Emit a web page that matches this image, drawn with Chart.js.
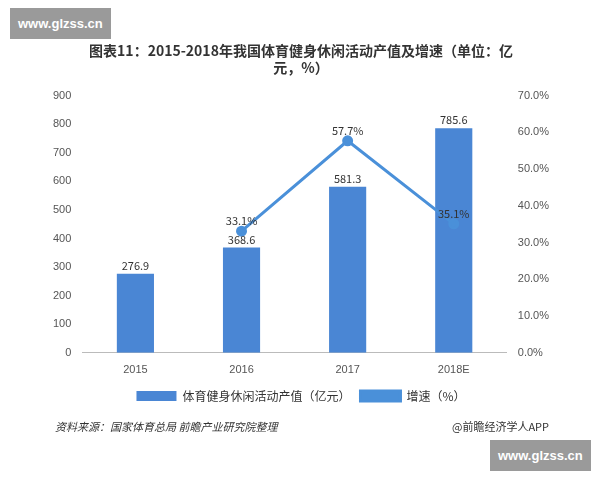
<!DOCTYPE html>
<html><head><meta charset="utf-8">
<script src="https://cdn.jsdelivr.net/npm/chart.js@4"></script>
<style>
body{margin:0;background:#fff;font-family:"Noto Sans CJK SC",sans-serif}
#wrap{position:relative;width:600px;height:480px}
.wm{position:absolute;background:#9a9a9a;color:#fff;font:bold 13px "Liberation Sans",sans-serif;padding:8px 8px}
.src{position:absolute;top:418px;font-size:11px;font-style:italic;color:#333}
</style></head><body>
<div id="wrap">
<canvas id="c" width="600" height="480"></canvas>
<div class="wm" style="left:10px;top:8px">www.glzss.cn</div>
<div class="wm" style="left:490px;top:440px">www.glzss.cn</div>
<div class="src" style="left:55px">资料来源：国家体育总局 前瞻产业研究院整理</div>
<div class="src" style="left:452px;font-style:normal">@前瞻经济学人APP</div>
</div>
<script>
// 数据
var years = ['2015', '2016', '2017', '2018E']
var outputValues = [276.9, 368.6, 581.3, 785.6]
var growthRates = [null, 33.1, 57.7, 35.1]

var labelPlugin = {
    id: 'labels',
    afterDatasetsDraw: function (chart) {
        var ctx = chart.ctx
        ctx.save()
        ctx.font = '11px "Noto Sans CJK SC"'
        ctx.fillStyle = '#333'
        ctx.textAlign = 'center'
        chart.getDatasetMeta(0).data.forEach(function (b, i) {
            ctx.fillText(outputValues[i].toFixed(1), b.x, b.y - 8)
        })
        chart.getDatasetMeta(1).data.forEach(function (p, i) {
            if (growthRates[i] == null) return
            ctx.fillText(growthRates[i].toFixed(1) + '%', p.x, p.y - 10)
        })
        ctx.restore()
    }
}

new Chart(document.getElementById('c'), {
    type: 'bar',
    data: {
        labels: years,
        datasets: [{
            label: '体育健身休闲活动产值（亿元）',
            data: outputValues,
            backgroundColor: '#4a86d4',
            barPercentage: 0.35,
            categoryPercentage: 1,
            yAxisID: 'y',
            order: 2
        }, {
            type: 'line',
            label: '增速（%）',
            data: growthRates,
            borderColor: '#4a90d9',
            backgroundColor: '#4a90d9',
            borderWidth: 3,
            pointRadius: 4,
            yAxisID: 'y1',
            order: 1
        }]
    },
    options: {
        responsive: false,
        animation: false,
        layout: { padding: { left: 50, right: 48, top: 42, bottom: 68 } },
        plugins: {
            title: {
                display: true,
                text: ['图表11：2015-2018年我国体育健身休闲活动产值及增速（单位：亿', '元，%）'],
                font: { size: 14, weight: 'bold', family: 'Noto Sans CJK SC' },
                color: '#333',
                lineHeight: 1.1,
                padding: { bottom: 20 }
            },
            legend: {
                position: 'bottom',
                labels: {
                    font: { size: 12, family: 'Noto Sans CJK SC' }, color: '#333', boxWidth: 40, boxHeight: 10,
                    sort: function (a, b) { return a.datasetIndex - b.datasetIndex }
                }
            },
            tooltip: { enabled: false }
        },
        scales: {
            x: {
                grid: { display: false },
                border: { color: '#bbb' },
                ticks: { color: '#555', font: { size: 11 } }
            },
            y: {
                min: 0, max: 900,
                ticks: { stepSize: 100, color: '#555', font: { size: 11 } },
                grid: { display: false },
                border: { display: false }
            },
            y1: {
                position: 'right',
                min: 0, max: 70,
                ticks: { stepSize: 10, color: '#555', font: { size: 11 }, callback: function (v) { return v.toFixed(1) + '%' } },
                grid: { display: false },
                border: { display: false }
            }
        }
    },
    plugins: [labelPlugin]
})
</script>
</body></html>
